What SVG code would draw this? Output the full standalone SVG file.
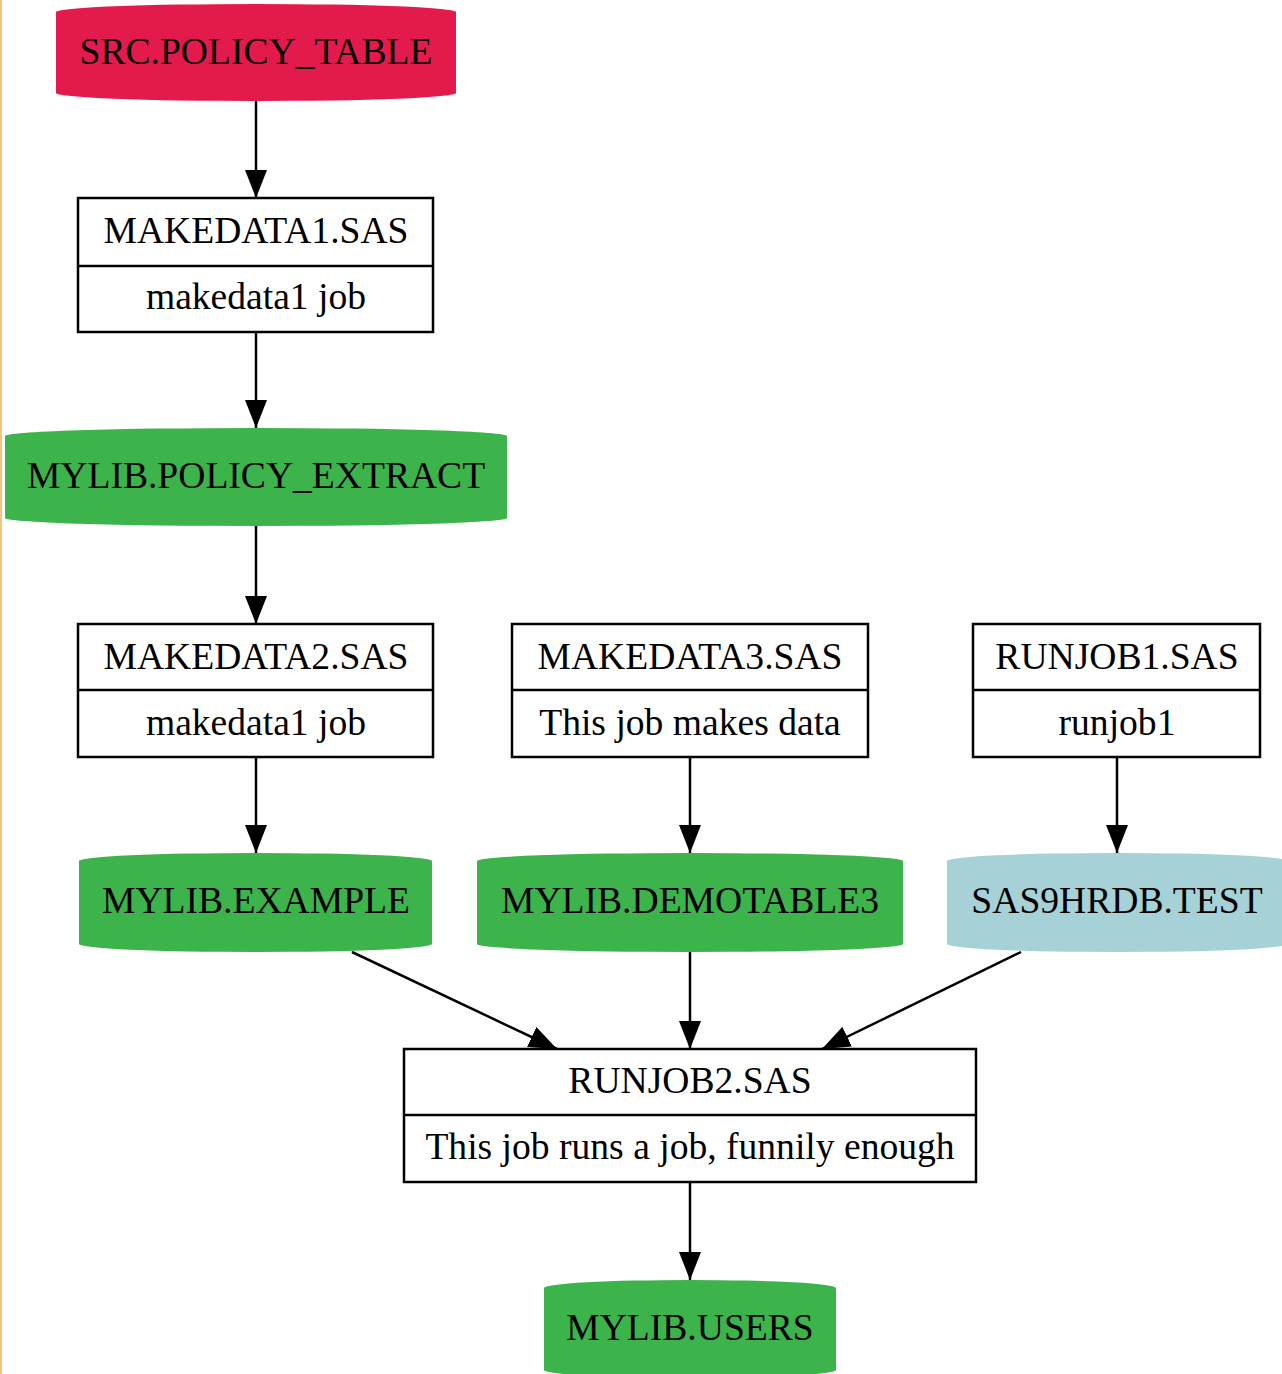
<svg xmlns="http://www.w3.org/2000/svg" width="1282" height="1374" viewBox="0 0 1282 1374">
<style>
text{font-family:"Liberation Serif","Times New Roman",serif;font-size:37.6px;fill:#000;text-anchor:middle}
.rec{fill:#fff;stroke:#000;stroke-width:2.5}
.div{stroke:#000;stroke-width:2.5}
.red{fill:#e31b4c}
.grn{fill:#3cb34b}
.blu{fill:#a6d1d7}
.edge{stroke:#000;stroke-width:2.5;fill:none;marker-end:url(#ah)}
</style>
<defs>
<marker id="ah" markerUnits="userSpaceOnUse" markerWidth="28" markerHeight="22" refX="28" refY="11" orient="auto">
<path d="M0,0 L28,11 L0,22 Z" fill="#000"/>
</marker>
</defs>
<rect width="1282" height="1374" fill="#fff"/>
<line x1="1" y1="0" x2="1" y2="1374" stroke="#f8c27f" stroke-width="2"/>
<g id="connectors">
<line class="edge" x1="256" y1="101" x2="256" y2="198"/>
<line class="edge" x1="256" y1="332" x2="256" y2="428"/>
<line class="edge" x1="256" y1="526" x2="256" y2="624"/>
<line class="edge" x1="256" y1="757" x2="256" y2="853"/>
<line class="edge" x1="690" y1="757" x2="690" y2="853"/>
<line class="edge" x1="1117" y1="757" x2="1117" y2="853"/>
<line class="edge" x1="352" y1="952" x2="557" y2="1049"/>
<line class="edge" x1="690" y1="952" x2="690" y2="1049"/>
<line class="edge" x1="1021" y1="952" x2="822" y2="1049"/>
<line class="edge" x1="690" y1="1182" x2="690" y2="1280"/>
</g>
<g id="src_policy_table">
<path class="red" d="M56,12 A200,8 0 0 1 456,12 L456,93 A200,8 0 0 1 56,93 Z"/>
<text x="256" y="64">SRC.POLICY_TABLE</text>
</g>
<g id="makedata1">
<rect class="rec" x="78" y="198" width="355" height="134"/>
<line class="div" x1="78" y1="266" x2="433" y2="266"/>
<text x="256" y="243">MAKEDATA1.SAS</text>
<text x="256" y="309">makedata1 job</text>
</g>
<g id="mylib_policy_extract">
<path class="grn" d="M5,436 A251,8 0 0 1 507,436 L507,518 A251,8 0 0 1 5,518 Z"/>
<text x="256" y="488">MYLIB.POLICY_EXTRACT</text>
</g>
<g id="makedata2">
<rect class="rec" x="78" y="624" width="355" height="133"/>
<line class="div" x1="78" y1="690" x2="433" y2="690"/>
<text x="256" y="669">MAKEDATA2.SAS</text>
<text x="256" y="735">makedata1 job</text>
</g>
<g id="makedata3">
<rect class="rec" x="512" y="624" width="356" height="133"/>
<line class="div" x1="512" y1="690" x2="868" y2="690"/>
<text x="690" y="669">MAKEDATA3.SAS</text>
<text x="690" y="735">This job makes data</text>
</g>
<g id="runjob1">
<rect class="rec" x="973" y="624" width="287" height="133"/>
<line class="div" x1="973" y1="690" x2="1260" y2="690"/>
<text x="1117" y="669">RUNJOB1.SAS</text>
<text x="1117" y="735">runjob1</text>
</g>
<g id="mylib_example">
<path class="grn" d="M79,861 A176.5,8 0 0 1 432,861 L432,944 A176.5,8 0 0 1 79,944 Z"/>
<text x="256" y="913">MYLIB.EXAMPLE</text>
</g>
<g id="mylib_demotable3">
<path class="grn" d="M477,861 A213,8 0 0 1 903,861 L903,944 A213,8 0 0 1 477,944 Z"/>
<text x="690" y="913">MYLIB.DEMOTABLE3</text>
</g>
<g id="sas9hrdb_test">
<path class="blu" d="M947,861 A170,8 0 0 1 1287,861 L1287,944 A170,8 0 0 1 947,944 Z"/>
<text x="1117" y="913">SAS9HRDB.TEST</text>
</g>
<g id="runjob2">
<rect class="rec" x="404" y="1049" width="572" height="133"/>
<line class="div" x1="404" y1="1115" x2="976" y2="1115"/>
<text x="690" y="1093">RUNJOB2.SAS</text>
<text x="690" y="1159">This job runs a job, funnily enough</text>
</g>
<g id="mylib_users">
<path class="grn" d="M544,1288 A146,8 0 0 1 836,1288 L836,1370 A146,8 0 0 1 544,1370 Z"/>
<text x="690" y="1340">MYLIB.USERS</text>
</g>
</svg>
